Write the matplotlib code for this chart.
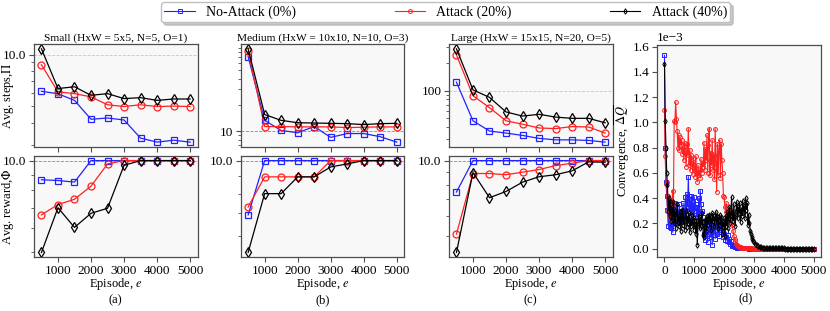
import numpy as np
import matplotlib
matplotlib.use("Agg")
import matplotlib.pyplot as plt
from matplotlib.ticker import FormatStrFormatter, NullFormatter, FixedLocator

plt.rcParams["font.family"] = ["Liberation Serif", "DejaVu Serif"]
plt.rcParams["mathtext.fontset"] = "stix"
TICK_FS = 9.5
LABEL_FS = 9
TITLE_FS = 8.2
LEG_FS = 10
plt.rcParams["font.size"] = TICK_FS

# ---------------- data ----------------
episodes = [500, 1000, 1500, 2000, 2500, 3000, 3500, 4000, 4500, 5000]
x_ticks = [1000, 2000, 3000, 4000, 5000]
conv_x_ticks = [0, 1000, 2000, 3000, 4000, 5000]
conv_y_ticks = [0.0, 0.2, 0.4, 0.6, 0.8, 1.0, 1.2, 1.4, 1.6]
series_labels = ["No-Attack (0%)", "Attack (20%)", "Attack (40%)"]
panel_titles = ["Small (HxW = 5x5, N=5, O=1)",
                "Medium (HxW = 10x10, N=10, O=3)",
                "Large (HxW = 15x15, N=20, O=5)"]
panel_tags = ["(a)", "(b)", "(c)", "(d)"]

# average steps
small_steps_none = [6.12, 5.92, 5.42, 4.21, 4.28, 4.17, 3.27, 3.10, 3.18, 3.10]
small_steps_20 = [8.73, 6.07, 5.93, 5.68, 5.11, 4.99, 5.11, 4.99, 5.02, 4.99]
small_steps_40 = [10.8, 6.35, 6.50, 5.80, 5.93, 5.55, 5.62, 5.42, 5.52, 5.52]

medium_steps_none = [71.3, 13.3, 10.2, 9.6, 11.3, 8.5, 9.4, 9.4, 8.65, 7.5]
medium_steps_20 = [81.5, 11.3, 11.3, 11.2, 11.2, 11.2, 11.0, 11.1, 11.2, 11.2]
medium_steps_40 = [87.4, 15.5, 13.3, 12.5, 12.4, 12.3, 12.2, 11.9, 12.2, 12.3]

large_steps_none = [123.6, 46.8, 36.2, 34.4, 32.4, 30.1, 29.0, 29.0, 28.6, 27.4]
large_steps_20 = [244.8, 87.9, 65.2, 46.8, 43.0, 39.1, 38.5, 40.5, 40.1, 34.4]
large_steps_40 = [285.4, 101.8, 84.3, 58.5, 52.7, 55.1, 51.4, 49.8, 49.8, 44.5]

# average reward
small_reward_none = [8.65, 8.6, 8.5, 10.0, 10.0, 10.0, 10.0, 10.0, 10.0, 10.0]
small_reward_20 = [6.63, 7.17, 7.46, 8.24, 9.75, 10.0, 10.0, 10.0, 10.0, 10.0]
small_reward_40 = [4.99, 7.0, 6.03, 6.71, 6.97, 9.65, 10.0, 10.0, 10.0, 10.0]

medium_reward_none = [6.93, 10.0, 10.0, 10.0, 10.0, 10.0, 10.0, 10.0, 10.0, 10.0]
medium_reward_20 = [7.31, 8.96, 8.96, 8.96, 8.96, 10.0, 10.0, 10.0, 10.0, 10.0]
medium_reward_40 = [5.38, 8.0, 8.0, 8.96, 8.96, 9.58, 9.78, 10.0, 10.0, 10.0]

large_reward_none = [7.49, 10.0, 10.0, 10.0, 10.0, 10.0, 10.0, 10.0, 10.0, 10.0]
large_reward_20 = [5.09, 8.88, 8.88, 8.78, 8.99, 9.21, 9.55, 9.76, 10.0, 10.0]
large_reward_40 = [4.30, 8.96, 7.11, 7.53, 8.2, 8.62, 8.78, 9.10, 9.88, 9.85]

# convergence (units of 1e-3)
conv_episodes = np.concatenate([np.arange(0, 3001, 25), np.arange(3050, 5001, 50)])
conv_none = [
    1.53, 0.80, 0.53, 0.42, 0.31, 0.18, 0.30, 0.17, 0.19, 0.16,
    0.28, 0.13, 0.22, 0.36, 0.21, 0.30, 0.25, 0.33, 0.20, 0.27,
    0.35, 0.22, 0.30, 0.19, 0.28, 0.36, 0.24, 0.31, 0.41, 0.27,
    0.43, 0.33, 0.57, 0.30, 0.39, 0.26, 0.42, 0.29, 0.37, 0.23,
    0.41, 0.30, 0.35, 0.25, 0.33, 0.22, 0.40, 0.28, 0.46, 0.35,
    0.30, 0.25, 0.21, 0.12, 0.17, 0.07, 0.15, 0.10, 0.05, 0.18,
    0.12, 0.21, 0.09, 0.16, 0.03, 0.19, 0.11, 0.22, 0.08, 0.17,
    0.25, 0.12, 0.19, 0.10, 0.15, 0.22, 0.13, 0.18, 0.09, 0.16,
    0.12, 0.07, 0.14, 0.09, 0.06, 0.11, 0.05, 0.08, 0.04, 0.06,
    0.03, 0.025, 0.02, 0.018, 0.015, 0.012, 0.010, 0.009, 0.008, 0.007,
    0.006, 0.005, 0.005, 0.004, 0.004, 0.003, 0.003, 0.003, 0.002, 0.002,
    0.002, 0.002, 0.002, 0.001, 0.001, 0.001, 0.001, 0.001, 0.001, 0.001, 0.001,
    0.001, 0.001, 0.001, 0.001, 0.001, 0.001, 0.001, 0.001, 0.001, 0.001,
    0.001, 0.001, 0.001, 0.001, 0.001, 0.001, 0.001, 0.001, 0.001, 0.001,
    0.001, 0.001, 0.001, 0.001, 0.001, 0.001, 0.001, 0.001, 0.001, 0.001,
    0.001, 0.001, 0.001, 0.001, 0.001, 0.001, 0.001, 0.001, 0.001, 0.001,
]
conv_20 = [
    1.10, 0.73, 0.51, 0.53, 0.30, 0.42, 0.35, 0.25, 0.30, 0.22,
    0.38, 0.46, 0.35, 1.01, 1.00, 1.16, 1.03, 0.93, 0.80, 0.90,
    0.78, 0.88, 0.82, 0.86, 0.75, 0.80, 0.70, 0.84, 0.76, 0.65,
    0.83, 0.74, 0.95, 0.66, 0.78, 0.62, 0.74, 0.68, 0.59, 0.72,
    0.64, 0.57, 0.73, 0.60, 0.53, 0.66, 0.58, 0.62, 0.56, 0.71,
    0.60, 0.68, 0.65, 0.84, 0.62, 0.79, 0.70, 0.90, 0.60, 0.82,
    0.95, 0.58, 0.76, 0.66, 0.86, 0.62, 0.74, 0.55, 0.95, 0.68,
    0.45, 0.83, 0.58, 0.78, 0.86, 0.56, 0.83, 0.70, 0.60, 0.42,
    0.41, 0.33, 0.29, 0.36, 0.27, 0.30, 0.24, 0.28, 0.26, 0.29,
    0.22, 0.19, 0.14, 0.10, 0.08, 0.06, 0.04, 0.03, 0.025, 0.02,
    0.015, 0.012, 0.010, 0.008, 0.007, 0.006, 0.005, 0.004, 0.004, 0.003,
    0.003, 0.003, 0.002, 0.002, 0.002, 0.002, 0.002, 0.002, 0.001, 0.001, 0.001,
    0.001, 0.001, 0.001, 0.001, 0.001, 0.001, 0.001, 0.001, 0.001, 0.001,
    0.001, 0.001, 0.001, 0.001, 0.001, 0.001, 0.001, 0.001, 0.001, 0.001,
    0.001, 0.001, 0.001, 0.001, 0.001, 0.001, 0.001, 0.001, 0.001, 0.001,
    0.001, 0.001, 0.001, 0.001, 0.001, 0.001, 0.001, 0.001, 0.001, 0.001,
]
conv_40 = [
    1.46, 1.01, 0.80, 0.60, 0.50, 0.30, 0.40, 0.26, 0.38, 0.22,
    0.33, 0.25, 0.37, 0.20, 0.30, 0.16, 0.28, 0.35, 0.21, 0.26,
    0.18, 0.29, 0.14, 0.24, 0.31, 0.19, 0.27, 0.15, 0.22, 0.30,
    0.17, 0.25, 0.20, 0.28, 0.13, 0.23, 0.18, 0.27, 0.21, 0.15,
    0.24, 0.19, 0.12, 0.22, 0.03, 0.20, 0.26, 0.16, 0.23, 0.18,
    0.28, 0.21, 0.11, 0.09, 0.17, 0.23, 0.14, 0.26, 0.19, 0.24,
    0.27, 0.20, 0.25, 0.15, 0.28, 0.22, 0.26, 0.18, 0.24, 0.29,
    0.21, 0.26, 0.16, 0.23, 0.27, 0.19, 0.25, 0.12, 0.21, 0.17,
    0.24, 0.10, 0.26, 0.18, 0.29, 0.16, 0.24, 0.33, 0.20, 0.27,
    0.41, 0.28, 0.22, 0.35, 0.25, 0.18, 0.30, 0.37, 0.24, 0.33,
    0.28, 0.36, 0.21, 0.31, 0.26, 0.38, 0.29, 0.34, 0.24, 0.40,
    0.31, 0.36, 0.19, 0.27, 0.20, 0.14, 0.12, 0.09, 0.08, 0.06, 0.05,
    0.04, 0.03, 0.02, 0.015, 0.010, 0.008, 0.006, 0.005, 0.004, 0.003,
    0.002, 0.002, 0.002, 0.002, 0.002, 0.002, 0.002, 0.002, 0.002, 0.002,
    0.001, 0.001, 0.001, 0.001, 0.001, 0.001, 0.001, 0.001, 0.001, 0.001,
    0.001, 0.001, 0.001, 0.001, 0.001, 0.001, 0.001, 0.001, 0.001, 0.001,
]

steps_data = [(small_steps_none, small_steps_20, small_steps_40),
              (medium_steps_none, medium_steps_20, medium_steps_40),
              (large_steps_none, large_steps_20, large_steps_40)]
reward_data = [(small_reward_none, small_reward_20, small_reward_40),
               (medium_reward_none, medium_reward_20, medium_reward_40),
               (large_reward_none, large_reward_20, large_reward_40)]
conv_data = (conv_none, conv_20, conv_40)

# ---------------- style ----------------
colors = ["#2222ff", "#ff2020", "black"]
markers = ["s", "o", "d"]
msizes = [5, 5, 5.5]
step_formats = ["%.1f", "%d", "%d"]
grid_colors = ["0.78", "0.55", "0.78"]
FACE = "#f8f8f8"
SPINE = "0.3"

fig = plt.figure(figsize=(8.3, 3.11), dpi=100)

lefts = [0.041, 0.290, 0.541]
W = 0.197
top_rect_y, top_rect_h = 0.528, 0.330
bot_rect_y, bot_rect_h = 0.1736, 0.3248


def style_axes(ax):
    ax.set_facecolor(FACE)
    for s in ax.spines.values():
        s.set_color(SPINE)
        s.set_linewidth(0.9)
    ax.tick_params(which="both", direction="out", color=SPINE,
                   labelsize=TICK_FS, pad=2)
    ax.tick_params(which="major", length=3.5, width=0.8)
    ax.tick_params(which="minor", length=2, width=0.6)


for i in range(3):
    ax_t = fig.add_axes([lefts[i], top_rect_y, W, top_rect_h])
    ax_b = fig.add_axes([lefts[i], bot_rect_y, W, bot_rect_h], sharex=ax_t)
    for ax, data, fmt in ((ax_t, steps_data[i], step_formats[i]),
                          (ax_b, reward_data[i], "%.1f")):
        style_axes(ax)
        for k in range(3):
            ax.plot(episodes, data[k], color=colors[k], marker=markers[k],
                    ms=msizes[k], mfc="none", mew=0.9, lw=0.9)
        ax.set_yscale("log")
        ax.yaxis.set_major_formatter(FormatStrFormatter(fmt))
        ax.yaxis.set_minor_formatter(NullFormatter())
        ax.grid(True, axis="y", which="major", ls="--", lw=0.6,
                color=grid_colors[i] if ax is ax_t else "0.55")
        ax.set_axisbelow(True)
    ax_t.set_xticks(x_ticks)
    ax_t.tick_params(labelbottom=False)
    ax_t.set_title(panel_titles[i], fontsize=TITLE_FS, pad=2.5)
    ax_b.set_xlabel("Episode, $e$", fontsize=LABEL_FS)
    ax_b.xaxis.set_label_coords(0.5, -0.19)
    if i == 0:
        ax_t.set_ylabel(r"Avg. steps,$\bar{\Pi}$", fontsize=LABEL_FS)
        ax_b.set_ylabel(r"Avg. reward,$\bar{\Phi}$", fontsize=LABEL_FS)
        ax_t.yaxis.set_label_coords(-0.105, 0.5)
        ax_b.yaxis.set_label_coords(-0.105, 0.5)
    fig.text(lefts[i] + W / 2, 0.036, panel_tags[i], ha="center", va="center",
             fontsize=LABEL_FS)

# convergence panel
ax_d = fig.add_axes([0.7916, 0.1736, 0.1976, 0.6817])
style_axes(ax_d)
handles = []
for k in range(3):
    (ln,) = ax_d.plot(conv_episodes, np.array(conv_data[k]) * 1e-3,
                      color=colors[k], marker=markers[k], ms=2.8, mfc="none",
                      mew=0.7, lw=0.8, label=series_labels[k])
    handles.append(ln)
ax_d.set_ylim(-0.066e-3, 1.612e-3)
ax_d.yaxis.set_major_locator(FixedLocator(np.array(conv_y_ticks) * 1e-3))
ax_d.ticklabel_format(axis="y", style="sci", scilimits=(0, 0))
ax_d.yaxis.get_offset_text().set_fontsize(TICK_FS)
ax_d.set_xticks(conv_x_ticks)
ax_d.set_xlabel("Episode, $e$", fontsize=LABEL_FS)
ax_d.xaxis.set_label_coords(0.5, -0.09)
ax_d.set_ylabel(r"Convergence, $\overline{\Delta Q}$", fontsize=LABEL_FS)
ax_d.yaxis.set_label_coords(-0.15, 0.5)
fig.text(0.7916 + 0.1976 / 2 + 0.008, 0.042, panel_tags[3], ha="center",
         va="center", fontsize=LABEL_FS)

fig.legend(handles, series_labels, loc="lower left",
           bbox_to_anchor=(0.194, 0.928, 0.686, 0.066), mode="expand", ncol=3,
           fontsize=LEG_FS, frameon=True, fancybox=True,
           shadow={"color": "0.6", "alpha": 0.5},
           borderaxespad=0, handlelength=2.2, edgecolor="0.75",
           borderpad=0.25)

fig.savefig("out.png", dpi=100)
